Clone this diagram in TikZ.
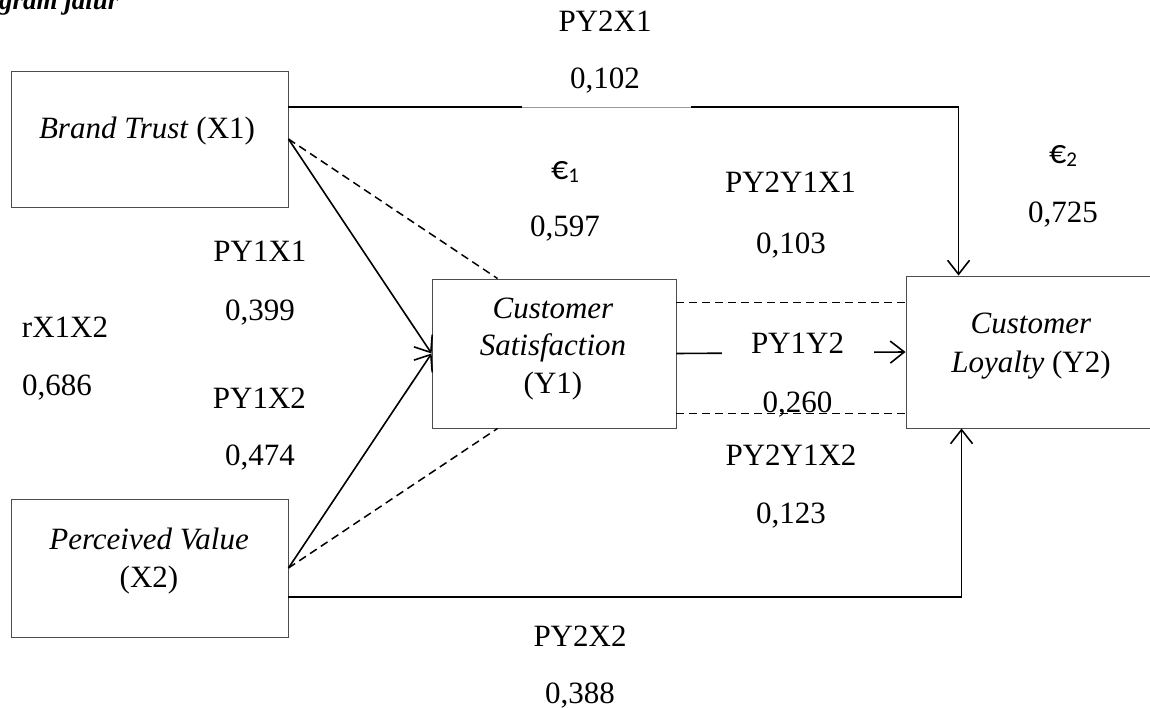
\documentclass[tikz,border=0pt]{standalone}
\usepackage{fontspec}
\setmainfont{Liberation Serif}
\newfontfamily\eurofont{Carlito}
\usetikzlibrary{arrows.meta}
\begin{document}
\begin{tikzpicture}[x=1pt,y=-1pt,
  box/.style={draw=black!70, line width=0.9pt, inner sep=0pt},
  txt/.style={anchor=base, inner sep=0pt, font=\fontsize{31}{37}\selectfont},
  conn/.style={line width=1.6pt},
  arr/.style={conn, -{Straight Barb[length=14pt,width=22pt,line width=1.6pt]}},
  dashline/.style={line width=1.5pt, dash pattern=on 8pt off 5pt},
  eur/.style={txt, font=\eurofont\fontsize{34}{36}\selectfont}
]
\useasboundingbox (0,0) rectangle (1150,708);
\clip (0,0) rectangle (1150,708);

% caption fragment
\node[anchor=base west, inner sep=0pt, font=\fontsize{27}{30}\selectfont\bfseries\itshape] (cap) at (-1,10) {gram jalur};

% boxes
\node[box, minimum width=277pt, minimum height=136pt] (x1) at (149.5,139) {};
\node[box, minimum width=277pt, minimum height=138pt] (x2) at (149.5,568) {};
\node[box, minimum width=244pt, minimum height=149pt] (y1) at (554,353.5) {};
\node[box, minimum width=250pt, minimum height=152pt] (y2) at (1031,352) {};

% box texts
\node[txt] (x1t) at (147,139) {\textit{Brand Trust} (X1)};
\node[txt] (x2ta) at (149,549) {\textit{Perceived Value}};
\node[txt] (x2tb) at (149,587) {(X2)};
\node[txt] (y1ta) at (553,319) {\textit{Customer}};
\node[txt] (y1tb) at (553,355) {\textit{Satisfaction}};
\node[txt] (y1tc) at (553,393) {(Y1)};
\node[txt] (y2ta) at (1031,333) {\textit{Customer}};
\node[txt] (y2tb) at (1031,372) {\textit{Loyalty} (Y2)};

% connectors
\draw[arr] ([yshift=32pt]x1.east) -| ([xshift=53pt]y2.north west);
\draw[white, line width=3pt] (522,107) -- (691,107);
\draw[black!40, line width=0.7pt] (522,107) -- (691,107);
\draw[arr] ([yshift=-29pt]x2.east) -| ([xshift=56pt]y2.south west);
\draw[arr] (x1.east) -- (y1.west);
\draw[arr] (x2.east) -- (y1.west);
\draw[dashline] (x1.east) -- ([xshift=66pt]y1.north west);
\draw[dashline] (x2.east) -- ([xshift=66pt]y1.south west);
\draw[dashline] ([yshift=-24pt]y1.north east) -- ([yshift=-24pt]y1.north east -| y2.west);
\draw[dashline] ([yshift=15pt]y1.south east) -- ([yshift=15pt]y1.south east -| y2.west);
\draw[arr] (y1.east) -- (y2.west);

% labels
\node[txt] (l1) at (605,32) {PY2X1};
\node[txt] (l1v) at (605,89) {0,102};
\node[eur] (e1) at (565,180) {€\raisebox{-3pt}{\fontsize{21}{21}\selectfont 1}};
\node[txt] (e1v) at (565,237) {0,597};
\node[txt] (l2) at (790.5,193) {PY2Y1X1};
\node[txt] (l2v) at (791,254) {0,103};
\node[eur] (e2) at (1063,164) {€\raisebox{-3pt}{\fontsize{21}{21}\selectfont 2}};
\node[txt] (e2v) at (1063,223) {0,725};
\node[txt] (l3) at (260,262) {PY1X1};
\node[txt] (l3v) at (260,320) {0,399};
\node[txt] (r) at (65,337) {rX1X2};
\node[txt] (rv) at (57,395) {0,686};
\node[txt] (l4) at (259.5,408) {PY1X2};
\node[txt] (l4v) at (260,465) {0,474};
\node[txt, fill=white, minimum width=152pt, inner ysep=6pt] (l5) at (797.5,353) {PY1Y2};
\node[txt] (l5v) at (797.5,412) {0,260};
\node[txt] (l6) at (791,465) {PY2Y1X2};
\node[txt] (l6v) at (791,523) {0,123};
\node[txt] (l7) at (580,646) {PY2X2};
\node[txt] (l7v) at (580,703) {0,388};
\end{tikzpicture}
\end{document}
